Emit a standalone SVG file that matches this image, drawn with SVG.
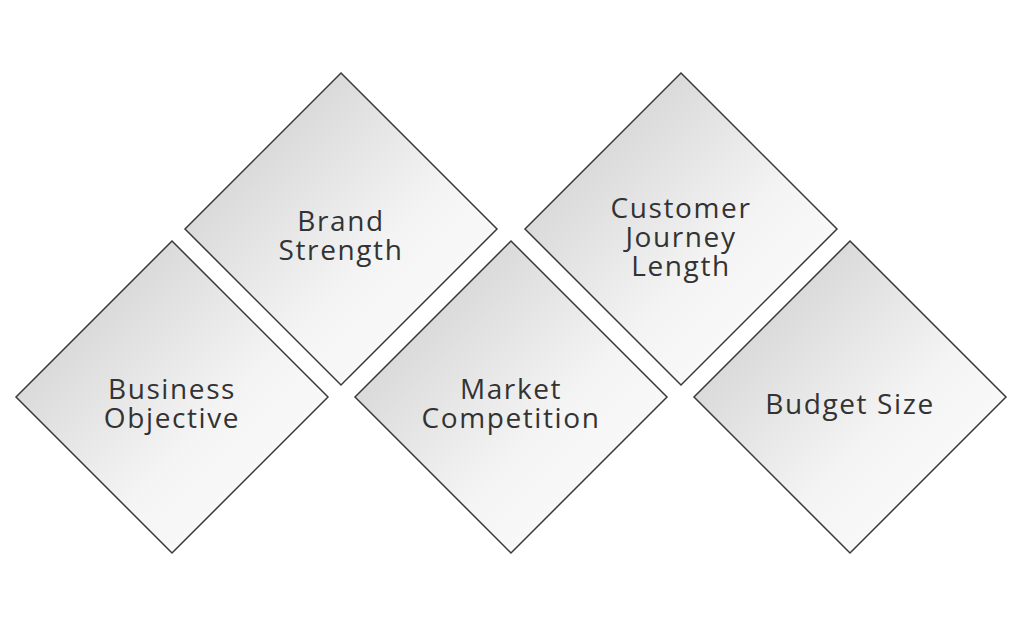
<svg xmlns="http://www.w3.org/2000/svg" width="1024" height="620" viewBox="0 0 1024 620">
<defs>
<linearGradient id="g" x1="0" y1="0" x2="1" y2="1">
<stop offset="0" stop-color="#c8c8c8"/>
<stop offset="0.6" stop-color="#f4f4f4"/>
<stop offset="1" stop-color="#ffffff"/>
</linearGradient>
<style>
.d{fill:url(#g);stroke:#3a3a3a;stroke-width:1.5}
.t{font-family:"Open Sans","DejaVu Sans",sans-serif;font-size:28px;font-weight:500;letter-spacing:1.6px;fill:#333;text-anchor:middle}
</style>
</defs>
<rect width="1024" height="620" fill="#fff"/>
<g id="business"><path class="d" d="M172 241L328 397L172 553L16 397Z"/><text class="t" x="172" y="399">Business</text><text class="t" x="172" y="428">Objective</text></g>
<g id="brand"><path class="d" d="M341 73L497 229L341 385L185 229Z"/><text class="t" x="341" y="231">Brand</text><text class="t" x="341" y="260">Strength</text></g>
<g id="market"><path class="d" d="M511 241L667 397L511 553L355 397Z"/><text class="t" x="511" y="399">Market</text><text class="t" x="511" y="428">Competition</text></g>
<g id="journey"><path class="d" d="M681 73L837 229L681 385L525 229Z"/><text class="t" x="681" y="218">Customer</text><text class="t" x="681" y="247">Journey</text><text class="t" x="681" y="276">Length</text></g>
<g id="budget"><path class="d" d="M850 241L1006 397L850 553L694 397Z"/><text class="t" x="850" y="414">Budget Size</text></g>
<g id="connectors"/>
</svg>
